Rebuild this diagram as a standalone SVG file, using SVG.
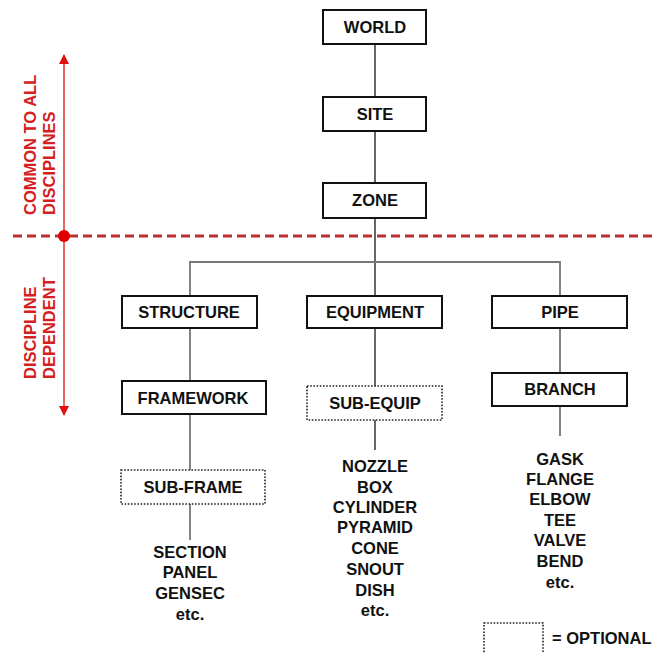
<svg xmlns="http://www.w3.org/2000/svg" width="654" height="653" viewBox="0 0 654 653">
<style>
.box{fill:#fff;stroke:#111;stroke-width:2}
.opt{fill:#fff;stroke:#222;stroke-width:1.6;stroke-dasharray:1.6 1.6}
.t{font-family:"Liberation Sans",Arial,sans-serif;font-weight:bold;font-size:16.5px;fill:#111;text-anchor:middle}
.red{font-family:"Liberation Sans",Arial,sans-serif;font-weight:bold;font-size:16.5px;fill:#d42020}
.c{stroke:#333;stroke-width:1.5;fill:none}
.g{stroke:#777;stroke-width:1.8;fill:none}
</style>
<defs>
<marker id="ah" viewBox="0 0 10 10" refX="9" refY="5" markerWidth="10" markerHeight="10" markerUnits="userSpaceOnUse" orient="auto">
<path d="M0,0 L10,5 L0,10 z" fill="#e01010"/>
</marker>
</defs>
<rect width="654" height="653" fill="#fff"/>
<g id="connectors">
<line class="c" x1="375" y1="44" x2="375" y2="97"/>
<line class="c" x1="375" y1="131" x2="375" y2="183"/>
<line class="c" x1="375" y1="218" x2="375" y2="296"/>
<polyline class="g" points="190,296 190,262 560,262 560,296"/>
<line class="g" x1="190" y1="328" x2="190" y2="381"/>
<line class="g" x1="190" y1="414" x2="190" y2="470"/>
<line class="g" x1="190" y1="504" x2="190" y2="540"/>
<line class="c" x1="375" y1="328" x2="375" y2="386"/>
<line class="c" x1="375" y1="420" x2="375" y2="450"/>
<line class="g" x1="560" y1="328" x2="560" y2="373"/>
<line class="g" x1="560" y1="406" x2="560" y2="436"/>
</g>
<g id="divider">
<line x1="13" y1="236" x2="654" y2="236" stroke="#b83030" stroke-width="3" stroke-dasharray="9 5"/>
<line x1="64" y1="236" x2="64" y2="55" stroke="#e01010" stroke-width="1.3" marker-end="url(#ah)"/>
<line x1="64" y1="236" x2="64" y2="415" stroke="#e01010" stroke-width="1.3" marker-end="url(#ah)"/>
<circle cx="64" cy="236" r="6" fill="#e00000"/>
<text class="red" transform="translate(36,215) rotate(-90)">COMMON TO ALL</text>
<text class="red" transform="translate(55,215) rotate(-90)">DISCIPLINES</text>
<text class="red" transform="translate(36,379) rotate(-90)">DISCIPLINE</text>
<text class="red" transform="translate(55,379) rotate(-90)">DEPENDENT</text>
</g>
<g id="world"><rect class="box" x="323" y="10" width="103" height="34"/><text class="t" x="375" y="33">WORLD</text></g>
<g id="site"><rect class="box" x="323" y="97" width="103" height="34"/><text class="t" x="375" y="120">SITE</text></g>
<g id="zone"><rect class="box" x="323" y="183" width="103" height="35"/><text class="t" x="375" y="206">ZONE</text></g>
<g id="structure"><rect class="box" x="122" y="296" width="135" height="32"/><text class="t" x="189" y="318">STRUCTURE</text></g>
<g id="equipment"><rect class="box" x="307" y="296" width="135" height="32"/><text class="t" x="375" y="318">EQUIPMENT</text></g>
<g id="pipe"><rect class="box" x="492" y="296" width="135" height="32"/><text class="t" x="560" y="318">PIPE</text></g>
<g id="framework"><rect class="box" x="122" y="381" width="144" height="33"/><text class="t" x="193" y="404">FRAMEWORK</text></g>
<g id="sub-equip"><rect class="opt" x="307" y="386" width="135" height="34"/><text class="t" x="375" y="409">SUB-EQUIP</text></g>
<g id="branch"><rect class="box" x="492" y="373" width="135" height="33"/><text class="t" x="560" y="395">BRANCH</text></g>
<g id="sub-frame"><rect class="opt" x="121" y="470" width="144" height="34"/><text class="t" x="193" y="493">SUB-FRAME</text></g>
<g id="structure-items">
<text class="t" x="190" y="558">SECTION</text>
<text class="t" x="190" y="578">PANEL</text>
<text class="t" x="190" y="599">GENSEC</text>
<text class="t" x="190" y="620">etc.</text>
</g>
<g id="equipment-items">
<text class="t" x="375" y="472">NOZZLE</text>
<text class="t" x="375" y="493">BOX</text>
<text class="t" x="375" y="513">CYLINDER</text>
<text class="t" x="375" y="533">PYRAMID</text>
<text class="t" x="375" y="554">CONE</text>
<text class="t" x="375" y="575">SNOUT</text>
<text class="t" x="375" y="596">DISH</text>
<text class="t" x="375" y="616">etc.</text>
</g>
<g id="pipe-items">
<text class="t" x="560" y="465">GASK</text>
<text class="t" x="560" y="485">FLANGE</text>
<text class="t" x="560" y="505">ELBOW</text>
<text class="t" x="560" y="526">TEE</text>
<text class="t" x="560" y="546">VALVE</text>
<text class="t" x="560" y="567">BEND</text>
<text class="t" x="560" y="588">etc.</text>
</g>
<g id="legend">
<rect class="opt" x="484" y="623" width="59" height="34"/>
<text class="t" x="552" y="644" style="text-anchor:start">= OPTIONAL</text>
</g>
</svg>
